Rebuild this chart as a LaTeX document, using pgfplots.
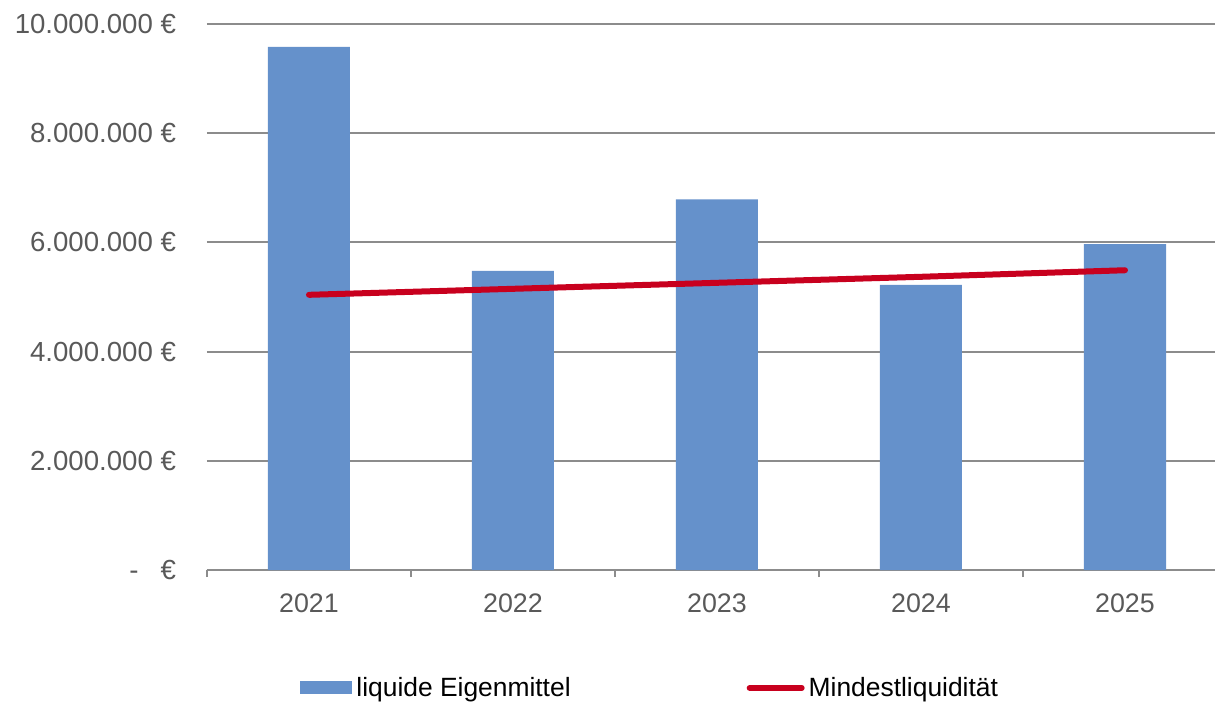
\documentclass[border=0pt]{standalone}
\usepackage{pgfplots}
\pgfplotsset{compat=1.18}
\usepackage{fontspec}
\setmainfont{Liberation Sans}
\definecolor{barblue}{RGB}{101,145,203}
\definecolor{linered}{RGB}{200,0,30}
\definecolor{gridgray}{RGB}{140,140,140}
\definecolor{labelgray}{RGB}{89,89,89}
\begin{document}
\begin{tikzpicture}
\begin{axis}[
 at={(0,0)}, anchor=south west,
 scale only axis, width=510pt, height=273pt,
 xmin=-0.5, xmax=4.5, ymin=0, ymax=10000000,
 xtick={0,1,2,3,4}, xticklabels={2021,2022,2023,2024,2025},
 minor xtick={-0.5,0.5,1.5,2.5,3.5,4.5},
 ytick={0,2000000,4000000,6000000,8000000,10000000},
 yticklabels={{-\hspace{11pt}€},{2.000.000 €},{4.000.000 €},{6.000.000 €},{8.000.000 €},{10.000.000 €}},
 scaled y ticks=false,
 axis x line*=bottom, axis y line*=left,
 y axis line style={draw=none},
 x axis line style={gridgray, line width=1pt},
 ymajorgrids, major grid style={gridgray, line width=1pt},
 minor x tick style={gridgray, line width=1pt},
 ytick style={draw=none},
 tick align=outside, minor tick length=3.5pt, major tick length=0pt,
 yticklabel style={font=\fontsize{13.8}{16}\selectfont, text=labelgray, anchor=east, xshift=-12pt},
 xticklabel style={font=\fontsize{13.4}{16}\selectfont, text=labelgray, anchor=north, yshift=-8.5pt},
 legend style={at={(rel axis cs:0.4355,-0.216)}, anchor=center, draw=none, fill=none,
   font=\fontsize{13.2}{16}\selectfont, legend columns=2,
   /tikz/every even column/.append style={column sep=86pt}},
 legend cell align=left,
]
\addplot[ybar, bar width=41pt, fill=barblue, draw=none,
  legend image code/.code={\fill[barblue] (0pt,-3.25pt) rectangle (26pt,3.25pt);}]
  coordinates {(0,9580000) (1,5480000) (2,6790000) (3,5220000) (4,5970000)};
\addlegendentry{liquide Eigenmittel}
\addplot[linered, line width=3pt, line cap=round, mark=none,
  legend image code/.code={\draw[linered, line width=3pt, line cap=round] (1.5pt,0pt) -- (27.5pt,0pt);}]
  coordinates {(0,5040000) (1,5150000) (2,5260000) (3,5370000) (4,5490000)};
\addlegendentry{Mindestliquidität}
\end{axis}
\pgfresetboundingbox
\path (-103.5pt,-66pt) rectangle (504pt,285pt);
\end{tikzpicture}
\end{document}
